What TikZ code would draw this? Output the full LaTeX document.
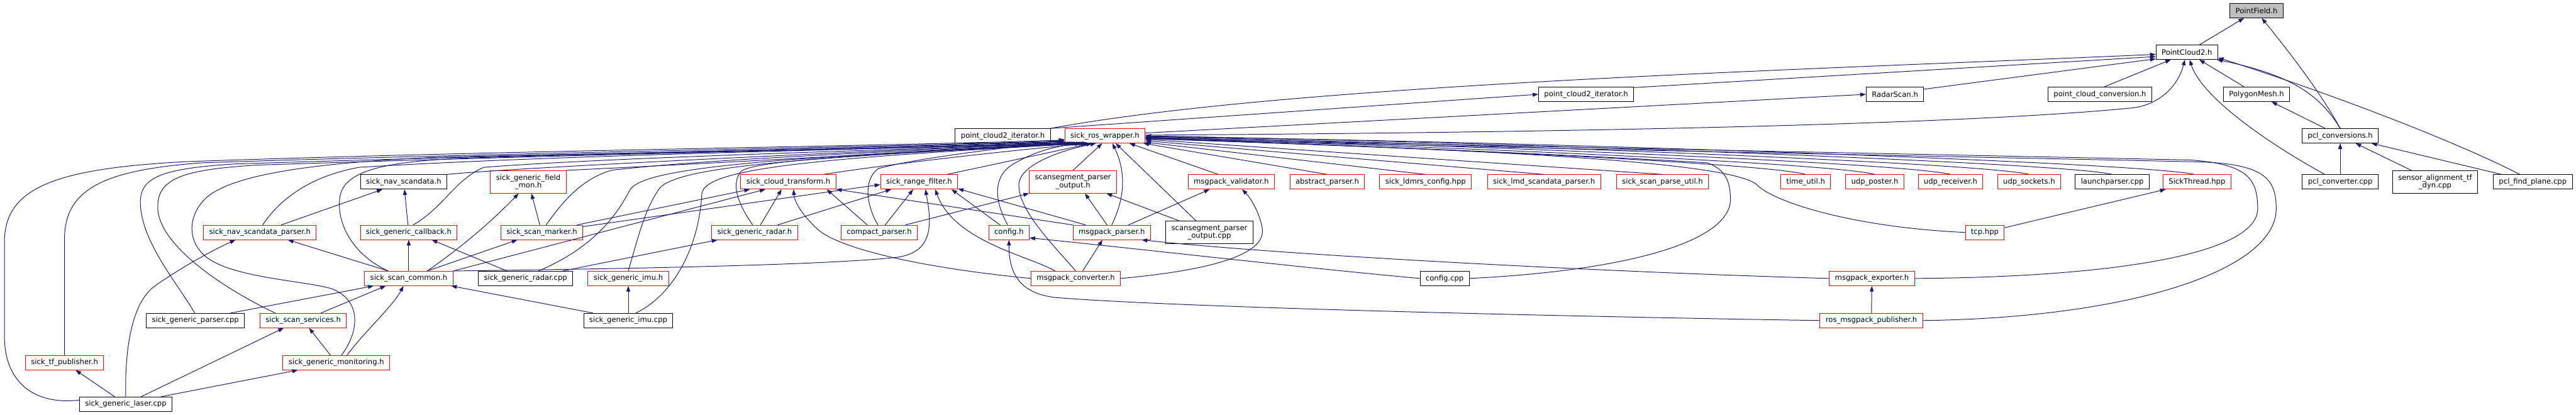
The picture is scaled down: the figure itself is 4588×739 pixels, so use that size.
\documentclass[tikz,border=0pt]{standalone}
\usepackage{fontspec}
\setmainfont{DejaVu Sans}
\usepackage{tikz}
\usetikzlibrary{arrows.meta}
\usepackage{xcolor}
\definecolor{cnavy}{RGB}{25,25,112}
\definecolor{crouge}{RGB}{255,0,0}
\definecolor{cgris}{RGB}{191,191,191}

\begin{document}
\begin{tikzpicture}[x=1pt, y=-1pt, >={Triangle[length=10pt,width=7pt]},
  hdr/.style={draw=black, line width=1.1pt, fill=white, font=\fontsize{13}{14}\selectfont,
    inner xsep=10pt, inner ysep=2pt, minimum height=25.5pt},
  hdrcut/.style={hdr, draw=crouge},
  hdrroot/.style={hdr, fill=cgris},
  two/.style={align=center, minimum height=40pt},
  dep/.style={draw=cnavy, line width=1.1pt, ->}]
\useasboundingbox (0,0) rectangle (4588,739);

\node[hdrroot] (pfield) at (4019,19) {PointField.h};
\node[hdr] (pc2) at (3895,93) {PointCloud2.h};
\node[hdr] (pc2itA) at (2825,168) {point\_cloud2\_iterator.h};
\node[hdr] (radarscan) at (3375,168) {RadarScan.h};
\node[hdr] (pcconv) at (3740,168) {point\_cloud\_conversion.h};
\node[hdr] (polymesh) at (4019,168) {PolygonMesh.h};
\node[hdr] (pc2itB) at (1786,242) {point\_cloud2\_iterator.h};
\node[hdrcut] (wrapper) at (1968,242) {sick\_ros\_wrapper.h};
\node[hdr] (pclconv) at (4168,242) {pcl\_conversions.h};

\node[hdr] (navscan) at (719,324) {sick\_nav\_scandata.h};
\node[hdrcut,two] (fieldmon) at (941,324) {sick\_generic\_field\\\_mon.h};
\node[hdrcut] (cloudtf) at (1404,324) {sick\_cloud\_transform.h};
\node[hdrcut] (rangefilter) at (1637,324) {sick\_range\_filter.h};
\node[hdrcut,two] (scansegout) at (1911,324) {scansegment\_parser\\\_output.h};
\node[hdrcut] (validator) at (2193,324) {msgpack\_validator.h};
\node[hdrcut] (abstract) at (2364,324) {abstract\_parser.h};
\node[hdrcut] (ldmrs) at (2539,324) {sick\_ldmrs\_config.hpp};
\node[hdrcut] (lmd) at (2750,324) {sick\_lmd\_scandata\_parser.h};
\node[hdrcut] (parseutil) at (2961,324) {sick\_scan\_parse\_util.h};
\node[hdrcut] (timeutil) at (3216,324) {time\_util.h};
\node[hdrcut] (udpposter) at (3339,324) {udp\_poster.h};
\node[hdrcut] (udprecv) at (3474,324) {udp\_receiver.h};
\node[hdrcut] (udpsock) at (3614,324) {udp\_sockets.h};
\node[hdr] (launch) at (3762,324) {launchparser.cpp};
\node[hdrcut] (sickthread) at (3913,324) {SickThread.hpp};
\node[hdr] (pclconverter) at (4168,324) {pcl\_converter.cpp};
\node[hdr,two] (sensoralign) at (4337,324) {sensor\_alignment\_tf\\\_dyn.cpp};
\node[hdr] (pclfind) at (4511,324) {pcl\_find\_plane.cpp};

\node[hdrcut] (navparser) at (463,414) {sick\_nav\_scandata\_parser.h};
\node[hdrcut] (callback) at (728,414) {sick\_generic\_callback.h};
\node[hdrcut] (marker) at (965,414) {sick\_scan\_marker.h};
\node[hdrcut] (radarh) at (1344,414) {sick\_generic\_radar.h};
\node[hdrcut] (compact) at (1566,414) {compact\_parser.h};
\node[hdrcut] (configh) at (1797,414) {config.h};
\node[hdrcut] (msgparser) at (1980,414) {msgpack\_parser.h};
\node[hdr,two] (scansegcpp) at (2154,414) {scansegment\_parser\\\_output.cpp};
\node[hdrcut] (tcp) at (3535,414) {tcp.hpp};

\node[hdrcut] (scancommon) at (728,496) {sick\_scan\_common.h};
\node[hdr] (radarcpp) at (936,496) {sick\_generic\_radar.cpp};
\node[hdrcut] (imuh) at (1119,496) {sick\_generic\_imu.h};
\node[hdrcut] (msgconv) at (1916,496) {msgpack\_converter.h};
\node[hdr] (configcpp) at (2573,496) {config.cpp};
\node[hdrcut] (msgexport) at (3334,496) {msgpack\_exporter.h};

\node[hdr] (genparser) at (348,571) {sick\_generic\_parser.cpp};
\node[hdrcut] (services) at (540,571) {sick\_scan\_services.h};
\node[hdr] (imucpp) at (1119,571) {sick\_generic\_imu.cpp};
\node[hdrcut] (rospub) at (3333,571) {ros\_msgpack\_publisher.h};

\node[hdrcut] (tfpub) at (115,646) {sick\_tf\_publisher.h};
\node[hdrcut] (monitoring) at (599,646) {sick\_generic\_monitoring.h};
\node[hdr] (laser) at (224,720) {sick\_generic\_laser.cpp};

\draw[dep] (pc2) -- (pfield);
\draw[dep] (pclconv.north) .. controls (4130,160) and (4075,90) .. (pfield.-55);
\draw[dep] (pc2itB.north east) .. controls (2300,150) and (3200,125) .. (pc2.-176);
\draw[dep] (pc2itB.north east) -- (pc2itA.west);
\draw[dep] (pc2itA.8) -- (pc2.-172);
\draw[dep] (wrapper.4) -- (radarscan.west);
\draw[dep] (radarscan.10) -- (pc2.-168);
\draw[dep] (wrapper.1) .. controls (2800,236) and (3500,222) .. (3800,192) .. controls (3850,185) and (3880,150) .. (pc2.-105);
\draw[dep] (pcconv.60) -- (pc2.-155);
\draw[dep] (polymesh) -- (pc2);
\draw[dep] (pclconverter.154) .. controls (4030,250) and (3920,170) .. (pc2.-70);
\draw[dep] (pclconv.north) .. controls (4135,175) and (4090,135) .. (pc2.-14);
\draw[dep] (pclfind.150) .. controls (4350,240) and (4100,150) .. (pc2.-10);
\draw[dep] (pclconv) -- (polymesh);
\draw[dep] (pclconverter) -- (pclconv);
\draw[dep] (sensoralign) -- (pclconv);
\draw[dep] (pclfind) -- (pclconv);

\foreach \n/\a in {abstract/-11, ldmrs/-9, lmd/-7, parseutil/-5}
  {\draw[dep] (\n.north) -- (wrapper.\a);}
\draw[dep] (timeutil.north) .. controls (3140,290) and (2500,262) .. (wrapper.-4);
\draw[dep] (udpposter.north) .. controls (3260,290) and (2550,260) .. (wrapper.-3);
\draw[dep] (udprecv.north) .. controls (3390,290) and (2600,258) .. (wrapper.-2);
\draw[dep] (udpsock.north) .. controls (3530,290) and (2650,256) .. (wrapper.-1);
\draw[dep] (launch.north) .. controls (3680,290) and (2700,254) .. (wrapper.0);
\draw[dep] (sickthread.110) .. controls (3820,290) and (2750,252) .. (wrapper.-1);
\draw[dep] (configcpp.east) .. controls (2900,482) and (3082,430) .. (3082,355) .. controls (3082,320) and (3070,300) .. (3040,290) .. controls (2800,275) and (2300,255) .. (wrapper.-3);
\draw[dep] (tcp.west) .. controls (3300,405) and (3160,360) .. (3130,330) .. controls (3090,290) and (2700,268) .. (wrapper.-4);
\draw[dep] (tcp) -- (sickthread);
\draw[dep] (msgexport.east) .. controls (3750,494) and (4021,455) .. (4021,372) .. controls (4021,320) and (4005,292) .. (3900,285) .. controls (3300,272) and (2400,255) .. (wrapper.-2);
\draw[dep] (rospub.east) .. controls (3800,566) and (4054,480) .. (4054,372) .. controls (4054,315) and (4030,290) .. (3900,288) .. controls (3300,275) and (2400,258) .. (wrapper.-3);
\draw[dep] (rospub) -- (msgexport);
\draw[dep] (msgexport.west) .. controls (2900,486) and (2300,456) .. (msgparser.-14);
\draw[dep] (rospub.west) .. controls (2800,564) and (2100,548) .. (1880,530) .. controls (1810,522) and (1797,480) .. (configh.south);
\draw[dep] (configcpp.west) .. controls (2300,475) and (2000,440) .. (configh.-15);

\draw[dep] (laser.175) .. controls (60,722) and (8,680) .. (8,600) -- (8,430) .. controls (8,330) and (110,300) .. (330,288) .. controls (900,268) and (1500,262) .. (wrapper.-174);
\draw[dep] (tfpub.north) -- (115,420) .. controls (118,330) and (200,302) .. (360,290) .. controls (900,272) and (1500,264) .. (wrapper.-173);
\draw[dep] (genparser.95) .. controls (320,510) and (250,430) .. (250,360) .. controls (250,315) and (290,300) .. (420,292) .. controls (950,275) and (1500,265) .. (wrapper.-172);
\draw[dep] (services.165) .. controls (410,520) and (282,440) .. (281,370) .. controls (280,320) and (320,302) .. (460,294) .. controls (1000,276) and (1520,266) .. (wrapper.-171);
\draw[dep] (monitoring.55) .. controls (640,590) and (645,535) .. (590,514) .. controls (540,500) and (420,495) .. (370,460) .. controls (330,430) and (335,380) .. (370,350) .. controls (420,310) and (560,290) .. (780,280) .. controls (1100,272) and (1560,266) .. (wrapper.-170);
\draw[dep] (navparser.70) .. controls (485,375) and (530,318) .. (640,298) .. controls (1000,276) and (1550,266) .. (wrapper.-169);
\draw[dep] (scancommon.160) .. controls (630,455) and (600,400) .. (605,355) .. controls (608,300) and (700,288) .. (820,282) .. controls (1100,272) and (1560,266) .. (wrapper.-168);
\draw[dep] (navscan.north east) .. controls (900,300) and (1500,270) .. (wrapper.-167);
\draw[dep] (callback.60) .. controls (790,370) and (810,320) .. (862,298) .. controls (1100,280) and (1560,268) .. (wrapper.-166);
\draw[dep] (fieldmon.north east) .. controls (1250,292) and (1600,272) .. (wrapper.-165);
\draw[dep] (marker.60) .. controls (995,370) and (1030,320) .. (1090,303) .. controls (1300,280) and (1650,268) .. (wrapper.-164);
\draw[dep] (radarcpp.30) .. controls (1060,440) and (1100,380) .. (1121,340) .. controls (1140,300) and (1350,282) .. (wrapper.-162);
\draw[dep] (imuh.north) .. controls (1140,410) and (1150,370) .. (1175,335) .. controls (1210,295) and (1450,280) .. (wrapper.-160);
\draw[dep] (imucpp.45) .. controls (1200,525) and (1245,440) .. (1250,345) .. controls (1255,300) and (1450,282) .. (wrapper.-158);
\draw[dep] (radarh.105) .. controls (1330,385) and (1295,335) .. (1320,305) .. controls (1350,282) and (1650,270) .. (wrapper.-156);
\draw[dep] (cloudtf.12) .. controls (1600,290) and (1800,268) .. (wrapper.-154);
\draw[dep] (rangefilter.15) -- (wrapper.-150);
\draw[dep] (compact.100) .. controls (1545,370) and (1535,320) .. (1565,300) .. controls (1650,278) and (1800,264) .. (wrapper.-175);
\draw[dep] (configh.100) .. controls (1772,360) and (1766,315) .. (1805,292) .. controls (1840,272) and (1870,262) .. (wrapper.-163);
\draw[dep] (msgconv.north) .. controls (1870,430) and (1810,370) .. (1815,325) .. controls (1820,295) and (1880,270) .. (wrapper.-140);
\draw[dep] (scansegout.north) -- (wrapper.-110);
\draw[dep] (msgparser.north) .. controls (1995,370) and (2012,320) .. (wrapper.-45);
\draw[dep] (scansegcpp.139) -- (wrapper.-35);
\draw[dep] (validator.150) -- (wrapper.-17);

\draw[dep] (navparser) -- (navscan);
\draw[dep] (callback) -- (navscan);
\draw[dep] (scancommon.160) -- (navparser.-15);
\draw[dep] (scancommon) -- (callback);
\draw[dep] (scancommon.22) .. controls (830,435) and (885,385) .. (fieldmon.-130);
\draw[dep] (scancommon.22) -- (marker.-163);
\draw[dep] (scancommon.north east) -- (cloudtf.-162);
\draw[dep] (scancommon.north east) .. controls (1200,478) and (1500,470) .. (1600,458) .. controls (1662,448) and (1660,400) .. (rangefilter.-50);
\draw[dep] (marker) -- (fieldmon);
\draw[dep] (marker.12) -- (cloudtf.-169);
\draw[dep] (marker.8) -- (rangefilter.-176);
\draw[dep] (radarh.52) -- (cloudtf.-132);
\draw[dep] (radarh.18) -- (rangefilter.-165);
\draw[dep] (compact) -- (rangefilter);
\draw[dep] (compact.148) -- (cloudtf.-11);
\draw[dep] (compact.16) -- (scansegout.south west);
\draw[dep] (configh.140) -- (rangefilter.-13);
\draw[dep] (msgparser.north west) -- (cloudtf.south east);
\draw[dep] (msgparser.164) -- (rangefilter.-10);
\draw[dep] (msgparser.122) -- (scansegout.-44);
\draw[dep] (msgparser.24) -- (validator.-161);
\draw[dep] (msgconv.47) -- (msgparser.-141);
\draw[dep] (msgconv.east) .. controls (2150,482) and (2258,455) .. (2248,405) .. controls (2242,375) and (2225,350) .. (validator.-35);
\draw[dep] (msgconv.west) .. controls (1650,478) and (1500,445) .. (1458,410) .. controls (1430,385) and (1415,360) .. (cloudtf.-55);
\draw[dep] (msgconv.160) .. controls (1830,455) and (1700,430) .. (rangefilter.-25);
\draw[dep] (scansegcpp.159) -- (scansegout.-19);
\draw[dep] (radarcpp.158) -- (callback.-18);
\draw[dep] (radarcpp) -- (radarh);
\draw[dep] (imucpp) -- (imuh);
\draw[dep] (imucpp.168) -- (scancommon.-10);
\draw[dep] (genparser.12) -- (scancommon.-168);
\draw[dep] (services.23) -- (scancommon.-162);
\draw[dep] (monitoring.35) .. controls (650,590) and (700,545) .. (scancommon.-125);
\draw[dep] (monitoring) -- (services);
\draw[dep] (laser) -- (tfpub);
\draw[dep] (laser.26) -- (services.-159);
\draw[dep] (laser.12) -- (monitoring.-169);
\draw[dep] (laser.north) .. controls (222,620) and (235,540) .. (275,510) .. controls (320,478) and (380,445) .. (navparser.-163);
\end{tikzpicture}
\end{document}
